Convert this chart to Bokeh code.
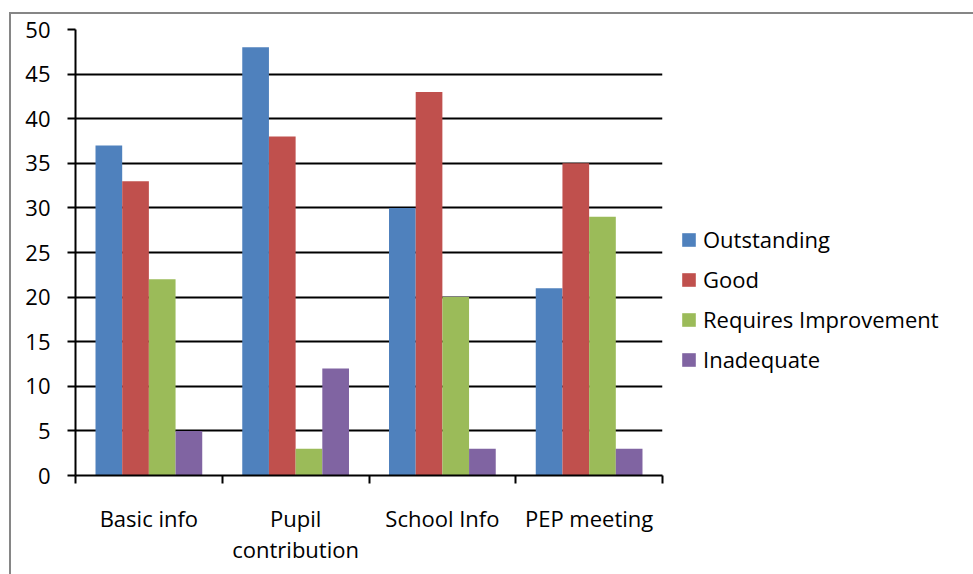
from bokeh.plotting import figure
from bokeh.models import (Range1d, FixedTicker, Legend, LegendItem, ColumnDataSource)
from bokeh.embed import file_html
from bokeh.resources import INLINE

# Survey results per section of the plan
categories = ["Basic info", "Pupil\ncontribution", "School Info", "PEP meeting"]
series_names = ["Outstanding", "Good", "Requires Improvement", "Inadequate"]
outstanding = [37, 48, 30, 21]
good = [33, 38, 43, 35]
requires_improvement = [22, 3, 20, 29]
inadequate = [5, 12, 3, 3]
y_ticks = [0, 5, 10, 15, 20, 25, 30, 35, 40, 45, 50]

series_values = [outstanding, good, requires_improvement, inadequate]
colors = ["#4F81BD", "#C0504D", "#9BBB59", "#8064A2"]

FONT = "Open Sans"
FS = "22px"

p = figure(frame_width=587, frame_height=446, output_backend="svg", toolbar_location=None,
           x_range=Range1d(0, len(categories)), y_range=Range1d(0, 50),
           min_border_left=64, min_border_right=0, min_border_top=15,
           min_border_bottom=99, outline_line_color=None)
p.margin = (12, 0, 0, 9)
p.styles = {"border-top": "2px solid #868686", "border-left": "2px solid #868686"}

# Clustered bars: four series per category, 150% gap between clusters
n = len(series_names)
bar_w = 1.0 / (n + 1.5)
centers = [i + 0.5 for i in range(len(categories))]
renderers = []
for k, (name, vals, col) in enumerate(zip(series_names, series_values, colors)):
    off = (k - (n - 1) / 2) * bar_w
    src = ColumnDataSource(dict(x=[c + off for c in centers], top=vals))
    r = p.vbar(x="x", top="top", width=bar_w, bottom=0, source=src,
               fill_color=col, line_color=None)
    renderers.append(r)

# Y axis
p.yaxis.ticker = FixedTicker(ticks=y_ticks)
p.yaxis.axis_line_color = "black"
p.yaxis.axis_line_width = 2
p.yaxis.major_tick_line_color = "black"
p.yaxis.major_tick_line_width = 2
p.yaxis.major_tick_out = 8
p.yaxis.major_tick_in = 0
p.yaxis.minor_tick_line_color = None
p.yaxis.major_label_standoff = 17
p.yaxis.major_label_text_font = FONT
p.yaxis.major_label_text_font_size = FS
p.yaxis.major_label_text_color = "black"

# X axis: labels at cluster centers, tick marks at cluster boundaries
p.xaxis.ticker = FixedTicker(ticks=centers, minor_ticks=list(range(len(categories) + 1)))
p.xaxis.major_label_overrides = {c: lab for c, lab in zip(centers, categories)}
p.xaxis.axis_line_color = "black"
p.xaxis.axis_line_width = 2
p.xaxis.major_tick_line_color = None
p.xaxis.minor_tick_line_color = "black"
p.xaxis.minor_tick_line_width = 2
p.xaxis.minor_tick_out = 8
p.xaxis.minor_tick_in = 0
p.xaxis.major_label_standoff = 19
p.xaxis.major_label_text_font = FONT
p.xaxis.major_label_text_font_size = FS
p.xaxis.major_label_text_color = "black"
p.xaxis.major_label_text_line_height = 1.05

# Grid
p.xgrid.grid_line_color = None
p.ygrid.ticker = FixedTicker(ticks=y_ticks)
p.ygrid.grid_line_color = "black"
p.ygrid.grid_line_width = 2

legend = Legend(items=[LegendItem(label=nm, renderers=[r]) for nm, r in zip(series_names, renderers)],
                location=(18, 101), orientation="vertical",
                glyph_width=17, glyph_height=17, label_standoff=6, spacing=10,
                padding=0, margin=0, border_line_color=None, background_fill_alpha=0,
                label_text_font=FONT, label_text_font_size=FS, label_text_color="black")
p.add_layout(legend, "right")

open("out.html", "w").write(file_html(p, INLINE))
